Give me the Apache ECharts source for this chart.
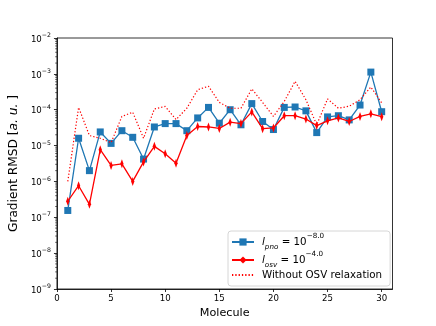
<!DOCTYPE html>
<html><head><meta charset="utf-8">
<script src="https://cdn.jsdelivr.net/npm/echarts@6/dist/echarts.min.js"></script>
<style>html,body{margin:0;padding:0;background:#fff}#c{width:436px;height:326px}</style>
</head><body><div id="c"></div>
<script>
const molecules = [1,2,3,4,5,6,7,8,9,10,11,12,13,14,15,16,17,18,19,20,21,22,23,24,25,26,27,28,29,30];
const pnoValues = [1.55e-7,1.6e-5,2.0e-6,2.4e-5,1.15e-5,2.6e-5,1.7e-5,4.2e-6,3.3e-5,4.1e-5,
  4.1e-5,2.6e-5,5.9e-5,1.16e-4,4.2e-5,1.0e-4,3.8e-5,1.48e-4,4.7e-5,2.8e-5,
  1.16e-4,1.19e-4,9.3e-5,2.3e-5,6.3e-5,6.8e-5,5.2e-5,1.35e-4,1.12e-3,8.8e-5];
const osvValues = [2.8e-7,7.6e-7,2.3e-7,7.7e-6,2.8e-6,3.1e-6,1.0e-6,3.5e-6,9.5e-6,5.9e-6,
  3.2e-6,1.9e-5,3.4e-5,3.3e-5,3.0e-5,4.5e-5,4.1e-5,8.7e-5,2.95e-5,3.1e-5,
  6.8e-5,6.8e-5,5.5e-5,3.6e-5,4.9e-5,5.9e-5,4.7e-5,6.5e-5,7.7e-5,6.4e-5];
const noRelaxValues = [1.0e-6,1.16e-4,1.9e-5,1.6e-5,1.2e-5,6.5e-5,8.5e-5,1.6e-5,1.05e-4,1.24e-4,
  5.3e-5,1.1e-4,3.6e-4,4.5e-4,1.6e-4,1.1e-4,1.1e-4,3.8e-4,1.6e-4,6.5e-5,
  1.7e-4,6.2e-4,1.9e-4,3.8e-5,2.0e-4,1.1e-4,1.25e-4,1.9e-4,4.3e-4,1.55e-4];
const xTicks = [0,5,10,15,20,25,30];
const yDecades = [-9,-8,-7,-6,-5,-4,-3,-2];

const FONT = 'DejaVu Sans';
const yMajor = yDecades.map(d => Math.pow(10, d));
const yMinor = [];
yDecades.slice(0, -1).forEach(d => { for (let m = 2; m <= 9; m++) yMinor.push(m * Math.pow(10, d)); });
function pairs(vals) { return molecules.map((m, i) => [m, vals[i]]); }

const legendText = {
  'pno': '{it|l}{sub|pno}{n| = 10}{sup|\u22128.0}',
  'osv': '{it|l}{sub|osv}{n| = 10}{sup|\u22124.0}',
  'Without OSV relaxation': 'Without OSV relaxation'
};

const chart = echarts.init(document.getElementById('c'), null, {renderer: 'canvas'});
chart.setOption({
  animation: false,
  backgroundColor: '#fff',
  grid: {left: 54, top: 38, width: 338.5, height: 251, show: true, borderColor: '#000', borderWidth: 0.8, backgroundColor: 'transparent'},
  xAxis: {
    type: 'value', min: 0, max: 31, interval: 5,
    axisLine: {lineStyle: {color: '#000', width: 0.8}},
    axisTick: {customValues: xTicks, length: 3, lineStyle: {color: '#000', width: 0.8}},
    axisLabel: {customValues: xTicks, fontFamily: FONT, fontSize: 8.6, color: '#000', margin: 5},
    splitLine: {show: false},
    name: 'Molecule', nameLocation: 'middle', nameGap: 18,
    nameTextStyle: {fontFamily: FONT, fontSize: 11.2, color: '#000'}
  },
  yAxis: {
    type: 'log', logBase: 10, min: 1e-9, max: 1e-2, position: 'left',
    axisLine: {show: true, lineStyle: {color: '#000', width: 0.8}},
    axisTick: {show: true, customValues: yMajor, length: 3, lineStyle: {color: '#000', width: 0.8}},
    axisLabel: {
      customValues: yMajor, margin: 6, color: '#000', padding: [3, 0, 0, 0],
      formatter: v => '{b|10}{s|\u2212' + Math.abs(Math.round(Math.log10(v))) + '}',
      rich: {
        b: {fontFamily: FONT, fontSize: 8.6, lineHeight: 14, color: '#000', verticalAlign: 'middle'},
        s: {fontFamily: FONT, fontSize: 6.2, lineHeight: 7, color: '#000', verticalAlign: 'top'}
      }
    },
    splitLine: {show: false},
    name: 'Gradient RMSD [{i|a. u.} ]', nameLocation: 'middle', nameGap: 29,
    nameTextStyle: {fontFamily: FONT, fontSize: 12.2, color: '#000',
      rich: {i: {fontFamily: FONT, fontSize: 12.2, fontStyle: 'italic', color: '#000'}}}
  },
  legend: {
    orient: 'vertical', left: 228, top: 231, padding: [2, 8, 5, 3], itemGap: 0,
    itemWidth: 22, itemHeight: 9,
    backgroundColor: 'rgba(255,255,255,0.8)', borderColor: '#cccccc', borderWidth: 0.8, borderRadius: 3,
    data: ['pno', 'osv', {name: 'Without OSV relaxation', itemStyle: {color: 'rgba(0,0,0,0)', opacity: 0}}],
    formatter: name => legendText[name],
    textStyle: {
      fontFamily: FONT, fontSize: 10.3, color: '#000', lineHeight: 12, padding: [0, 0, 0, 3],
      rich: {
        it: {fontFamily: FONT, fontSize: 10.3, fontStyle: 'italic', lineHeight: 18, verticalAlign: 'middle', color: '#000'},
        n: {fontFamily: FONT, fontSize: 10.3, lineHeight: 18, verticalAlign: 'middle', color: '#000'},
        sub: {fontFamily: FONT, fontSize: 7.2, fontStyle: 'italic', lineHeight: 8, verticalAlign: 'bottom', color: '#000'},
        sup: {fontFamily: FONT, fontSize: 7.2, lineHeight: 8, verticalAlign: 'top', color: '#000'}
      }
    }
  },
  series: [{
    name: 'pno', type: 'line', data: pairs(pnoValues),
    symbol: 'rect', symbolSize: 7, color: '#1f77b4',
    lineStyle: {width: 1.3, color: '#1f77b4'}, itemStyle: {color: '#1f77b4'}, z: 2
  }, {
    name: 'osv', type: 'line', data: pairs(osvValues),
    symbol: 'path://M0,-10L6,0L0,10L-6,0Z', symbolKeepAspect: true, symbolSize: [5.5, 9], color: '#ff0000',
    lineStyle: {width: 1.3, color: '#ff0000'}, itemStyle: {color: '#ff0000'}, z: 3
  }, {
    name: 'Without OSV relaxation', type: 'line', data: pairs(noRelaxValues),
    symbol: 'none', color: '#ff0000',
    lineStyle: {width: 1.2, color: '#ff0000', type: [1.3, 2]}, z: 4
  }, {
    name: 'minorTicks', type: 'custom', silent: true, clip: false, z: 5,
    data: yMinor.map(v => [0, v]),
    renderItem: (params, api) => {
      const p = api.coord([0, api.value(1)]);
      return {type: 'line', shape: {x1: p[0] - 1.8, y1: p[1], x2: p[0], y2: p[1]},
        style: {stroke: '#000', lineWidth: 0.6}};
    }
  }]
});
</script></body></html>
